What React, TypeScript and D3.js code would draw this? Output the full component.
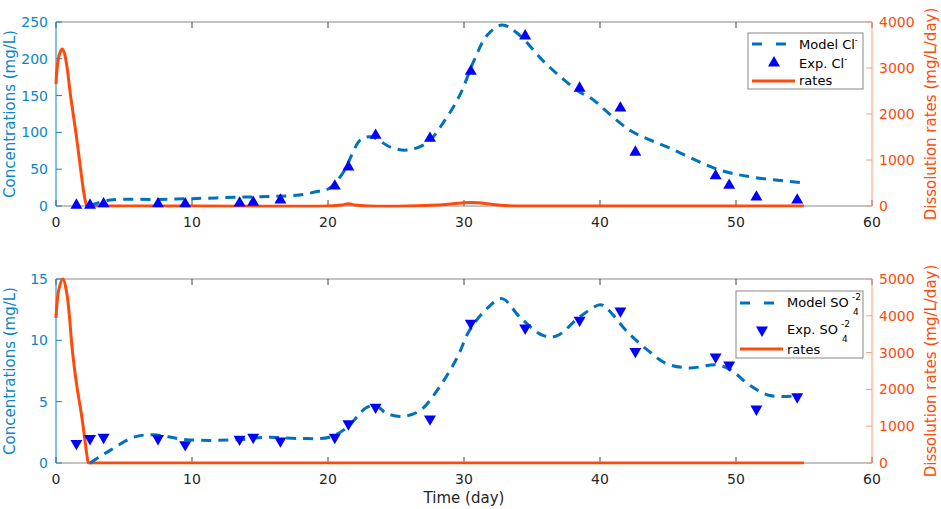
import React from "react";
import * as d3 from "d3";

// ---------- data ----------
const xTicks = [0, 10, 20, 30, 40, 50, 60];
const clTicks = [0, 50, 100, 150, 200, 250];
const clRateTicks = [0, 1000, 2000, 3000, 4000];
const so4Ticks = [0, 5, 10, 15];
const so4RateTicks = [0, 1000, 2000, 3000, 4000, 5000];

const modelClT = [2.5, 4, 7.6, 10, 13.5, 16, 17.9, 19.3, 20.1, 21.1, 22.4, 23.2, 24.6, 25.8, 27.3, 28.5, 29.7, 30.7, 31.7, 32.8, 33.9, 36.1, 38.5, 39.3, 42.2, 45.1, 48.8, 51.3, 54.7];
const modelClV = [1, 8, 9, 10, 12, 13, 15, 20, 24, 45, 90, 94, 80, 76, 86, 114, 151, 196, 232, 246, 235, 192, 155, 147, 103, 79, 49, 39, 32];

const expT = [1.5, 2.5, 3.5, 7.5, 9.5, 13.5, 14.5, 16.5, 20.5, 21.5, 23.5, 27.5, 30.5, 34.5, 38.5, 41.5, 42.6, 48.5, 49.5, 51.5, 54.5];
const expClV = [1, 1, 3, 3, 3, 4, 5, 8, 27, 53, 96, 92, 183, 231, 160, 133, 73, 41, 28, 12, 8];
const expSO4V = [1.6, 2.0, 2.1, 2.0, 1.5, 1.95, 2.1, 1.8, 2.1, 3.2, 4.55, 3.6, 11.4, 11.0, 11.65, 12.4, 9.1, 8.65, 8.0, 4.4, 5.4];

const modelSO4T = [2.5, 4, 5.7, 7.2, 9.6, 13.5, 15.5, 17.9, 20.1, 21.4, 22.8, 23.5, 24.3, 25.5, 26.8, 28.2, 29.5, 30.4, 31.7, 32.8, 34.1, 35.8, 36.8, 38.5, 40, 40.5, 42, 43.5, 44.9, 46.6, 48.6, 49.6, 51, 52.5, 54.7];
const modelSO4V = [0, 1.05, 2.1, 2.3, 1.9, 1.9, 2.1, 2.0, 2.1, 2.9, 4.5, 4.7, 4.05, 3.8, 4.3, 6.2, 8.6, 10.8, 12.6, 13.4, 11.9, 10.4, 10.35, 11.9, 12.9, 12.6, 10.7, 9.2, 8.1, 7.75, 8.0, 7.6, 6.35, 5.5, 5.5];

const rateClT = [0, 0.1, 0.25, 0.45, 0.6, 0.78, 1.08, 1.47, 1.81, 2.05, 2.2, 2.3, 3, 10, 20, 21, 21.5, 22, 23, 26, 28, 30, 31, 32, 33, 35, 45, 55];
const rateClV = [2650, 3050, 3300, 3413, 3340, 3080, 2376, 1580, 800, 280, 60, 0, 0, 0, 0, 20, 50, 20, 0, 0, 20, 70, 70, 40, 10, 0, 0, 0];

const rateSO4T = [0, 0.2, 0.5, 0.8, 1.2, 1.5, 1.9, 2.15, 2.3, 2.4, 3, 10, 20, 30, 40, 55];
const rateSO4V = [3940, 4700, 5000, 4600, 3070, 2170, 1250, 550, 150, 0, 0, 0, 0, 0, 0, 0];

// ---------- styles ----------
const BLUE_LINE = "#0072BD";
const BLUE_AXIS = "#0a86c8";
const MARK = "#0000FF";
const ORANGE = "#FF4A0A";
const ORANGE_AXIS = "#FF9A70";
const FONT = "DejaVu Sans, sans-serif";

type PanelProps = {
  id: string;
  top: number;
  bottom: number;
  yTicks: number[];
  yMax: number;
  rTicks: number[];
  rMax: number;
  modelT: number[];
  modelV: number[];
  expV: number[];
  down: boolean;
  rateT: number[];
  rateV: number[];
  legend: "cl" | "so4";
};

const L = 56;
const R = 872;

function Panel(p: PanelProps) {
  const x = d3.scaleLinear().domain([0, 60]).range([L, R]);
  const y = d3.scaleLinear().domain([0, p.yMax]).range([p.bottom, p.top]);
  const yr = d3.scaleLinear().domain([0, p.rMax]).range([p.bottom, p.top]);

  const modelPts: [number, number][] = p.modelT.map((t, i) => [t, p.modelV[i]]);
  const ratePts: [number, number][] = p.rateT.map((t, i) => [t, p.rateV[i]]);

  const modelLine = d3
    .line<[number, number]>()
    .x((d) => x(d[0]))
    .y((d) => y(d[1]))
    .curve(d3.curveCatmullRom.alpha(0.5))(modelPts) as string;
  const rateLine = d3
    .line<[number, number]>()
    .x((d) => x(d[0]))
    .y((d) => yr(d[1]))
    .curve(d3.curveCatmullRom.alpha(0.5))(ratePts) as string;

  const tri = d3.symbol().type(d3.symbolTriangle).size(62)() as string;
  const markRot = p.down ? 180 : 0;

  const tickLen = 6;
  const clipId = "clip-" + p.id;

  let legendEl: React.ReactNode;
  if (p.legend === "cl") {
    const lx = 748, ly = 33, lw = 115, lh = 56;
    legendEl = (
      <g fontFamily={FONT} fontSize={13} fill="#000">
        <rect x={lx} y={ly} width={lw} height={lh} fill="#fff" stroke="#888" strokeWidth={1} />
        <line x1={752} x2={786} y1={44} y2={44} stroke={BLUE_LINE} strokeWidth={3} strokeDasharray="10 14" />
        <text x={799} y={49}>Model Cl<tspan dy={-6} fontSize={8}>-</tspan></text>
        <path d={tri} transform={`translate(774,63)`} fill={MARK} />
        <text x={799} y={68}>Exp. Cl<tspan dy={-6} fontSize={8}>-</tspan></text>
        <line x1={752} x2={795} y1={81} y2={81} stroke={ORANGE} strokeWidth={3} />
        <text x={799} y={85}>rates</text>
      </g>
    );
  } else {
    const lx = 736, ly = 291, lw = 127, lh = 67;
    legendEl = (
      <g fontFamily={FONT} fontSize={13} fill="#000">
        <rect x={lx} y={ly} width={lw} height={lh} fill="#fff" stroke="#888" strokeWidth={1} />
        <line x1={740} x2={785} y1={303} y2={303} stroke={BLUE_LINE} strokeWidth={3} strokeDasharray="10 14" />
        <text x={787} y={307}>Model SO</text>
        <text x={852} y={300} fontSize={9}>-2</text>
        <text x={853} y={315} fontSize={9}>4</text>
        <path d={tri} transform={`translate(762,330) rotate(180)`} fill={MARK} />
        <text x={787} y={334}>Exp. SO</text>
        <text x={841} y={327} fontSize={9}>-2</text>
        <text x={842} y={342} fontSize={9}>4</text>
        <line x1={740} x2={783} y1={349} y2={349} stroke={ORANGE} strokeWidth={3} />
        <text x={787} y={354}>rates</text>
      </g>
    );
  }

  return (
    <g>
      <defs>
        <clipPath id={clipId}>
          <rect x={L - 5} y={p.top - 5} width={R - L + 10} height={p.bottom - p.top + 6.5} />
        </clipPath>
      </defs>
      {/* top border */}
      <line x1={L} x2={R} y1={p.top} y2={p.top} stroke="#888" strokeWidth={1} />
      {/* bottom axis */}
      <line x1={L} x2={R} y1={p.bottom} y2={p.bottom} stroke="#888" strokeWidth={1} />
      {xTicks.map((t) => (
        <g key={"xt" + t}>
          <line x1={x(t)} x2={x(t)} y1={p.bottom} y2={p.bottom - tickLen} stroke="#444" />
          <line x1={x(t)} x2={x(t)} y1={p.top} y2={p.top + tickLen} stroke="#444" />
          <text x={x(t)} y={p.bottom + 21} textAnchor="middle" fontFamily={FONT} fontSize={14} fill="#262626">
            {t}
          </text>
        </g>
      ))}
      {/* left axis */}
      <line x1={L} x2={L} y1={p.top} y2={p.bottom} stroke={BLUE_AXIS} strokeWidth={1} />
      {p.yTicks.map((t) => (
        <g key={"yt" + t}>
          <line x1={L} x2={L + tickLen} y1={y(t)} y2={y(t)} stroke={BLUE_AXIS} />
          <text x={L - 8} y={y(t) + 5} textAnchor="end" fontFamily={FONT} fontSize={14} fill={BLUE_AXIS}>
            {t}
          </text>
        </g>
      ))}
      {/* right axis */}
      <line x1={R} x2={R} y1={p.top} y2={p.bottom} stroke={ORANGE_AXIS} strokeWidth={1} />
      {p.rTicks.map((t) => (
        <g key={"rt" + t}>
          <line x1={R} x2={R - tickLen} y1={yr(t)} y2={yr(t)} stroke={ORANGE_AXIS} />
          <text x={R + 7} y={yr(t) + 5} textAnchor="start" fontFamily={FONT} fontSize={14} fill={ORANGE}>
            {t}
          </text>
        </g>
      ))}
      <text
        transform={`translate(15,${(p.top + p.bottom) / 2}) rotate(-90)`}
        textAnchor="middle"
        fontFamily={FONT}
        fontSize={15}
        fill={BLUE_AXIS}
      >
        Concentrations (mg/L)
      </text>
      <text
        transform={`translate(936,${(p.top + p.bottom) / 2}) rotate(-90)`}
        textAnchor="middle"
        fontFamily={FONT}
        fontSize={15}
        fill={ORANGE}
      >
        Dissolution rates (mg/L/day)
      </text>

      {/* rates */}
      <path d={rateLine} fill="none" stroke={ORANGE} strokeWidth={3} clipPath={`url(#${clipId})`} />
      {/* model */}
      <path d={modelLine} fill="none" stroke={BLUE_LINE} strokeWidth={3} strokeDasharray="10 7" />
      {/* experimental */}
      {expT.map((t, i) => (
        <path
          key={"m" + i}
          d={tri}
          transform={`translate(${x(t)},${y(p.expV[i])}) rotate(${markRot})`}
          fill={MARK}
        />
      ))}
      {legendEl}
    </g>
  );
}

export default function App() {
  return (
    <svg
      width={941}
      height={509}
      style={{ position: "absolute", left: 0, top: 0, background: "#fff" }}
    >
      <rect width={941} height={509} fill="#fff" />
      <Panel
        id="cl"
        top={22}
        bottom={206}
        yTicks={clTicks}
        yMax={250}
        rTicks={clRateTicks}
        rMax={4000}
        modelT={modelClT}
        modelV={modelClV}
        expV={expClV}
        down={false}
        rateT={rateClT}
        rateV={rateClV}
        legend="cl"
      />
      <Panel
        id="so4"
        top={279}
        bottom={463}
        yTicks={so4Ticks}
        yMax={15}
        rTicks={so4RateTicks}
        rMax={5000}
        modelT={modelSO4T}
        modelV={modelSO4V}
        expV={expSO4V}
        down={true}
        rateT={rateSO4T}
        rateV={rateSO4V}
        legend="so4"
      />
      <text x={464} y={503} textAnchor="middle" fontFamily={FONT} fontSize={15} fill="#262626">
        Time (day)
      </text>
    </svg>
  );
}
